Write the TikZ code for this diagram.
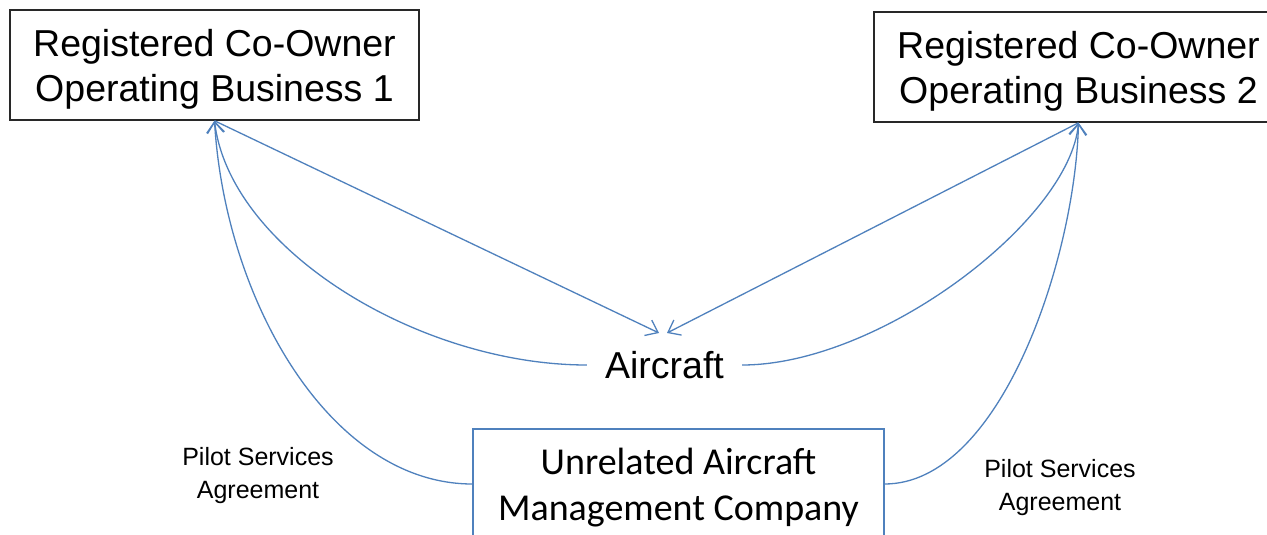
\documentclass[tikz,border=0pt]{standalone}
\usepackage{fontspec}
\setmainfont{Liberation Sans}
\newfontfamily\calib{Carlito}
\usetikzlibrary{arrows.meta}
\definecolor{lnblue}{RGB}{79,129,189}
\definecolor{boxgray}{RGB}{40,40,40}
\begin{document}
\begin{tikzpicture}[x=1pt,y=-1pt,
 ownerbox/.style={draw=boxgray,line width=1.5pt,minimum width=409pt,minimum height=110pt,inner sep=0pt,align=center,font=\fontsize{37.5}{45}\selectfont},
 mgmtbox/.style={draw=lnblue,line width=1.3pt,minimum width=411pt,minimum height=110pt,inner sep=0pt,align=center,font=\calib\fontsize{38}{46}\selectfont},
 link/.style={draw=lnblue,line width=1.3pt},
 tip/.style={-{Straight Barb[length=11pt,width=17pt]}},
 lbl/.style={align=center,font=\fontsize{25}{33}\selectfont}]
\useasboundingbox (0,0) rectangle (1267,535);
\clip (0,0) rectangle (1267,535);
\fill[white] (0,0) rectangle (1267,535);
\node[ownerbox] (b1) at (214.5,65) {\rule{0pt}{35.5pt}Registered Co-Owner\\Operating Business 1};
\node[ownerbox] (b2) at (1078.5,67) {\rule{0pt}{35.5pt}Registered Co-Owner\\Operating Business 2};
\node[font=\fontsize{37.5}{45}\selectfont, inner xsep=18pt] (ac) at (664.5,365) {Aircraft};
\node[mgmtbox] (mg) at (678.5,484) {\rule{0pt}{34pt}Unrelated Aircraft\\Management Company};
\node[lbl] (p1) at (258,476) {Pilot Services\\Agreement};
\node[lbl] (p2) at (1060,488) {Pilot Services\\Agreement};
\coordinate (acN1) at (659,333);
\coordinate (acN2) at (667,333);
\draw[link,tip] (b1.south) -- (acN1);
\draw[link,tip] (b2.south) -- (acN2);
\draw[link,tip] (ac.west) .. controls (420,365) and (230,250) .. (b1.south);
\draw[link,tip] (mg.west) .. controls (330,484) and (225,300) .. (b1.south);
\draw[link,tip] (ac.east) .. controls (880,365) and (1070,220) .. (b2.south);
\draw[link,tip] (mg.east) .. controls (1000,484) and (1075,260) .. (b2.south);
\end{tikzpicture}
\end{document}
